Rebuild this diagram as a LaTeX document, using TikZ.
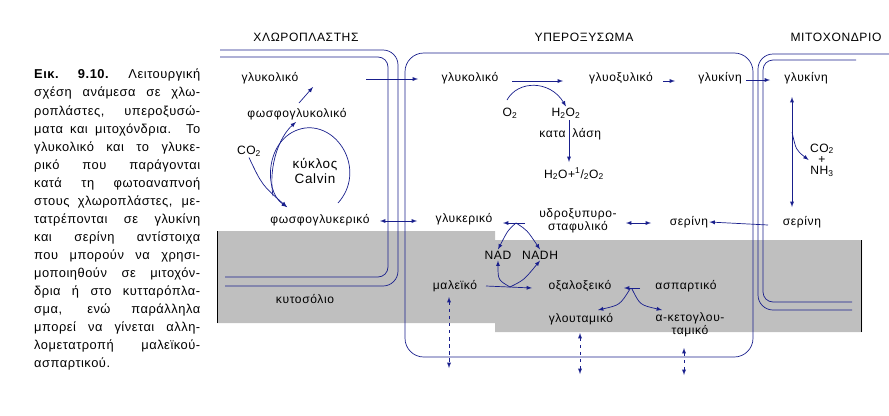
\documentclass[tikz,border=0pt]{standalone}
\usepackage{fontspec}
\setmainfont{Liberation Sans}
\newfontfamily\labfont[LetterSpace=5]{Liberation Sans}
\newfontfamily\capfont[LetterSpace=4]{Liberation Sans}
\usepackage{tikz}
\definecolor{darkBlue}{rgb}{0.1, 0.12, 0.55}
\definecolor{cytoGray}{rgb}{0.75, 0.75, 0.75}
\usetikzlibrary{calc}
\tikzset{
  lab/.style={inner sep=1pt, font=\labfont\fontsize{10.3}{11.5}\selectfont},
  membrane/.style={darkBlue, semithick},
  flow/.style={darkBlue, semithick, -latex},
  dflow/.style={darkBlue, semithick, latex-latex, dashed}
}

\begin{document}
\begin{tikzpicture}[x=0.03cm, y=-0.03cm]
        \useasboundingbox (0,0) rectangle (889,415);

        % cytosol
        \fill[cytoGray] (217,231) -- (495,231) -- (495,240) -- (862,240) -- (862,332)
                     -- (495,332) -- (495,323) -- (217,323) -- cycle;
        \draw (217,231) -- (217,323);
        \draw (861,240) -- (861,332);

        % membranes
        \draw[membrane] (220,50) -- (383,50) arc (-90:0:15) -- (398,271) arc (0:90:15) -- (225,286);
        \draw[membrane] (220,57) -- (378,57) arc (-90:0:10) -- (388,267) arc (0:90:10) -- (225,277);
        \draw[membrane, rounded corners=16] (405,53) rectangle (753,357);
        \draw[membrane] (889,54) -- (773,54) arc (270:180:15) -- (758,295) arc (180:90:15) -- (852,310);
        \draw[membrane] (856,60) -- (773,60) arc (270:180:10) -- (763,292) arc (180:90:10) -- (852,302);

        % titles
        \node[lab] (chl)  at (306,37) {ΧΛΩΡΟΠΛΑΣΤΗΣ};
        \node[lab] (per)  at (584,37) {ΥΠΕΡΟΞΥΣΩΜΑ};
        \node[lab] (mit)  at (836,37) {ΜΙΤΟΧΟΝΔΡΙΟ};

        % caption
        \node[anchor=north west, inner sep=0pt, text width=4.98cm, align=justify,
              font=\capfont\fontsize{11}{15.4}\selectfont] (cap) at (34,69)
          {\textbf{Εικ. 9.10.} Λειτουργική\linebreak
           σχέση ανάμεσα σε χλω-\linebreak
           ροπλάστες, υπεροξυσώ-\linebreak
           ματα και μιτοχόνδρια. Το\linebreak
           γλυκολικό και το γλυκε-\linebreak
           ρικό που παράγονται\linebreak
           κατά τη φωτοαναπνοή\linebreak
           στους χλωροπλάστες, με-\linebreak
           τατρέπονται σε γλυκίνη\linebreak
           και σερίνη αντίστοιχα\linebreak
           που μπορούν να χρησι-\linebreak
           μοποιηθούν σε μιτοχόν-\linebreak
           δρια ή στο κυτταρόπλα-\linebreak
           σμα, ενώ παράλληλα\linebreak
           μπορεί να γίνεται αλλη-\linebreak
           λομετατροπή μαλεϊκού-\linebreak
           ασπαρτικού.};

        % chloroplast
        \node[lab] (glcA)  at (270,78)  {γλυκολικό};
        \node[lab] (pglc)  at (297,114) {φωσφογλυκολικό};
        \node[lab] (co2A)  at (249,151) {CO\textsubscript{2}};
        \node[lab, align=center, font=\labfont\fontsize{11.5}{13}\selectfont] (calv) at (315,171) {κύκλος\\Calvin};
        \node[lab] (pgly)  at (320,220) {φωσφογλυκερικό};
        \node[lab] (cyto)  at (305,299) {κυτοσόλιο};

        \draw[flow] (299,103) -- (313,87);
        \draw[flow] (338,203) .. controls (366,172) and (340,124) .. (305,128)
                    .. controls (266,134) and (262,190) .. (287,207);
        \draw[flow] (273,196) .. controls (268,165) and (280,136) .. (296,122);
        \draw[flow] (co2A.south) .. controls (262,185) .. (287,207);

        % peroxisome
        \node[lab] (glcB)  at (470,78)  {γλυκολικό};
        \node[lab] (glox)  at (621,78)  {γλυοξυλικό};
        \node[lab] (glyB)  at (720,78)  {γλυκίνη};
        \node[lab] (o2)    at (510,113) {O\textsubscript{2}};
        \node[lab] (h2o2)  at (566,113) {H\textsubscript{2}O\textsubscript{2}};
        \node[lab, anchor=east] (katA) at (567,134) {κατα};
        \node[lab, anchor=west] (katB) at (571,134) {λάση};
        \node[lab] (h2o)   at (574,174) {H\textsubscript{2}O+\textsuperscript{1}/\textsubscript{2}O\textsubscript{2}};
        \node[lab] (glkB)  at (464,219) {γλυκερικό};
        \node[lab, align=center] (hpyr) at (578,221) {υδροξυπυρο-\\σταφυλικό};
        \node[lab] (serB)  at (689,222) {σερίνη};
        \node[lab] (nad)   at (498,255) {NAD};
        \node[lab] (nadh)  at (540,255) {NADH};
        \node[lab] (mal)   at (455,286) {μαλεϊκό};
        \node[lab] (oxa)   at (580,286) {οξαλοξεικό};
        \node[lab] (asp)   at (686,286) {ασπαρτικό};
        \node[lab] (glu)   at (581,319) {γλουταμικό};
        \node[lab, align=center] (akg) at (690,325) {α-κετογλου-\\ταμικό};

        \draw[flow] (366,79) -- (418,79);
        \draw[flow] (512,81) -- (563,81);
        \draw[flow] (663,81) -- (675,81);
        \draw[flow] (746,80) -- (770,80);
        \draw[flow] (507,100) .. controls (518,80) and (550,80) .. (h2o2.north);
        \draw[flow] (569,120) -- (569,162);
        \draw[flow, latex-latex] (380,221) -- (417,221);
        \draw[flow] (525,223) -- (503,223);
        \draw[flow] (516,223) .. controls (508,230) .. (nad.north);
        \draw[flow] (516,223) .. controls (527,230) .. (nadh.north);
        \draw[flow, latex-latex] (626,223) -- (651,223);
        \draw[flow] (768,225) -- (serB.east);
        \draw[flow] (486,286) -- (532,288);
        \draw[flow] (510,287) .. controls (498,280) .. (nad.south);
        \draw[flow] (510,287) .. controls (524,280) .. (nadh.south);
        \draw[flow] (640,288) -- (624,288);
        \draw[flow] (630,289) .. controls (620,305) .. (598,310);
        \draw[flow] (632,289) .. controls (640,305) .. (662,310);
        \draw[dflow] (449,297) -- (449,368);
        \draw[dflow] (580,333) -- (580,374);
        \draw[dflow] (684,348) -- (684,375);

        % mitochondrion
        \node[lab] (glyC)  at (806,78)  {γλυκίνη};
        \node[lab, align=center, font=\labfont\fontsize{10.3}{9.5}\selectfont] (co2B) at (822,160) {CO\textsubscript{2}\\+\\NH\textsubscript{3}};
        \node[lab] (serC)  at (802,222) {σερίνη};

        \draw[flow, latex-latex] (792,97) -- (792,207);
        \draw[flow] (792,132) .. controls (796,150) .. (co2B.west);
\end{tikzpicture}
\end{document}
